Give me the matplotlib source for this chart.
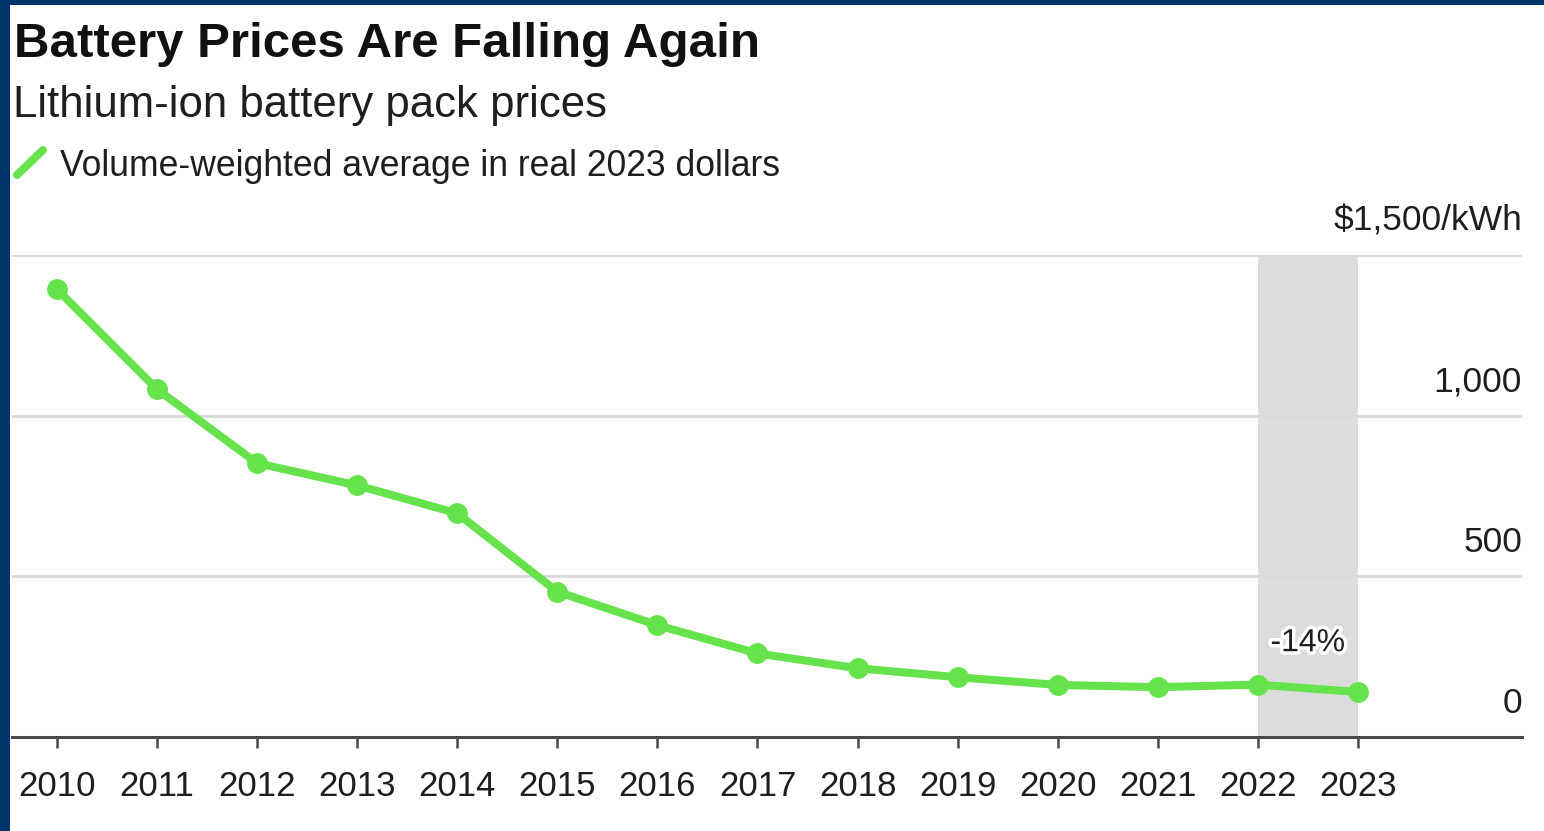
"""Lithium-ion battery pack prices, volume-weighted average in real 2023 dollars."""

import matplotlib
matplotlib.use("Agg")
import matplotlib.pyplot as plt
import matplotlib.patheffects as pe
from matplotlib.lines import Line2D
from matplotlib.patches import Rectangle

years = [2010, 2011, 2012, 2013, 2014, 2015, 2016,
         2017, 2018, 2019, 2020, 2021, 2022, 2023]
prices = [1393, 1082, 852, 783, 696, 452, 348,
          260, 214, 186, 162, 155, 163, 140]

y_ticks = [0, 500, 1000, 1500]
y_labels = ["0", "500", "1,000", "$1,500/kWh"]
highlight = (2022, 2023)

GREEN = "#66e34c"
NAVY = "#01346a"
TEXT = "#1e1e1e"

plt.rcParams["font.family"] = ["Liberation Sans", "DejaVu Sans"]

W, H = 1544, 831
fig = plt.figure(figsize=(W / 100, H / 100), dpi=100)
fig.patch.set_facecolor("white")

# plot area in pixel terms -> figure fractions
left, right, top, bottom = 12, 1522, 255, 737
ax = fig.add_axes([left / W, 1 - bottom / H, (right - left) / W, (bottom - top) / H])

# shaded comparison band behind everything
ax.axvspan(highlight[0], highlight[1], color="#dcdcdc", lw=0, zorder=0)

for v in y_ticks[1:]:
    ax.axhline(v, color="#d9d9d9", lw=2, zorder=1)

ax.plot(years, prices, color=GREEN, lw=5.8, marker="o", ms=14,
        solid_joinstyle="round", zorder=3, clip_on=False)

ax.set_xlim(2009.55, 2024.64)
ax.set_ylim(0, 1500)

for side in ["top", "right", "left"]:
    ax.spines[side].set_visible(False)
ax.spines["bottom"].set_color("#4a4a4a")
ax.spines["bottom"].set_linewidth(2.2)

ax.set_xticks(years)
ax.set_xticklabels([str(y) for y in years])
ax.tick_params(axis="x", length=8, width=1.8, color="#4a4a4a",
               labelsize=25, labelcolor=TEXT, pad=16)
ax.set_yticks([])

# value labels sit just above their grid lines, flush right
for v, lab in zip(y_ticks, y_labels):
    ax.annotate(lab, xy=(1.0, v), xycoords=("axes fraction", "data"),
                xytext=(0, 12.5), textcoords="offset points",
                ha="right", va="bottom", fontsize=25.5, color=TEXT)

# percent change across the shaded band
pct = (prices[-1] / prices[-2] - 1) * 100
ax.annotate(f"{pct:.0f}%", xy=(sum(highlight) / 2, prices[-2]),
            xytext=(0, 19), textcoords="offset points",
            ha="center", va="bottom", fontsize=23, color=TEXT, zorder=4,
            path_effects=[pe.withStroke(linewidth=5, foreground="white")])

# headline block
fig.text(14 / W, 1 - 57 / H, "Battery Prices Are Falling Again",
         fontsize=35.5, fontweight="bold", color="#111111", va="baseline")
fig.text(13 / W, 1 - 117 / H, "Lithium-ion battery pack prices",
         fontsize=31.5, color=TEXT, va="baseline")
fig.add_artist(Line2D([17 / W, 43 / W], [1 - 175 / H, 1 - 150 / H],
                      transform=fig.transFigure, color=GREEN, lw=5.8,
                      solid_capstyle="round"))
fig.text(60 / W, 1 - 176 / H, "Volume-weighted average in real 2023 dollars",
         fontsize=25.6, color=TEXT, va="baseline")

# frame strips along the top and left edges
fig.add_artist(Rectangle((0, 1 - 5 / H), 1, 5 / H, transform=fig.transFigure,
                         color=NAVY, lw=0))
fig.add_artist(Rectangle((0, 0), 10 / W, 1, transform=fig.transFigure,
                         color=NAVY, lw=0))

fig.savefig("out.png", dpi=100, facecolor=fig.get_facecolor())
